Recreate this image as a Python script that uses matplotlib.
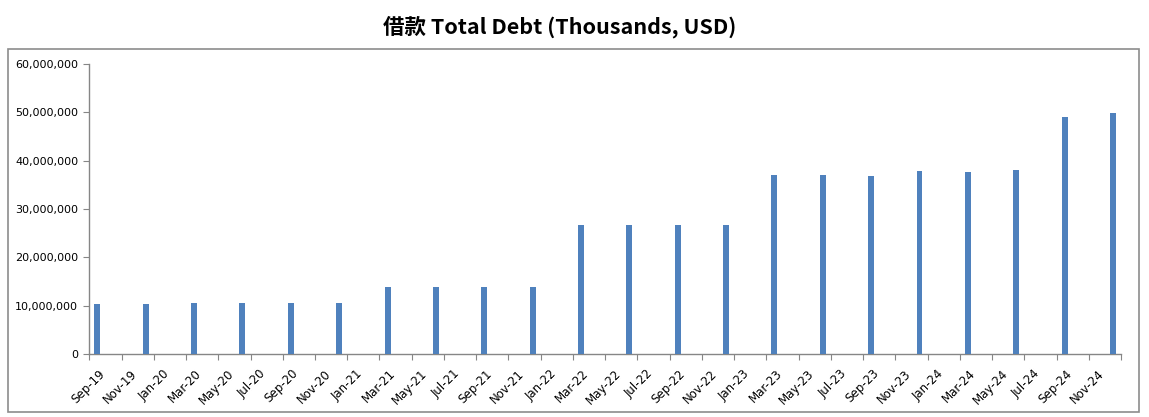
import matplotlib
matplotlib.use("Agg")
import matplotlib.pyplot as plt
from matplotlib.patches import Rectangle
from matplotlib.ticker import FuncFormatter
from matplotlib.transforms import ScaledTranslation

# Data (quarter-end months, values in thousands USD)
periods = ["Sep-19", "Dec-19", "Mar-20", "Jun-20", "Sep-20", "Dec-20",
           "Mar-21", "Jun-21", "Sep-21", "Dec-21", "Mar-22", "Jun-22",
           "Sep-22", "Dec-22", "Mar-23", "Jun-23", "Sep-23", "Dec-23",
           "Mar-24", "Jun-24", "Sep-24", "Dec-24"]
total_debt = [10390000, 10390000, 10590000, 10590000, 10590000, 10590000,
              13900000, 13900000, 13900000, 13900000, 26700000, 26700000,
              26700000, 26700000, 37000000, 37000000, 36800000, 37850000,
              37600000, 38000000, 49000000, 49800000]
tick_labels = ["Sep-19", "Nov-19", "Jan-20", "Mar-20", "May-20", "Jul-20",
               "Sep-20", "Nov-20", "Jan-21", "Mar-21", "May-21", "Jul-21",
               "Sep-21", "Nov-21", "Jan-22", "Mar-22", "May-22", "Jul-22",
               "Sep-22", "Nov-22", "Jan-23", "Mar-23", "May-23", "Jul-23",
               "Sep-23", "Nov-23", "Jan-24", "Mar-24", "May-24", "Jul-24",
               "Sep-24", "Nov-24"]

months = {"Jan": 1, "Feb": 2, "Mar": 3, "Apr": 4, "May": 5, "Jun": 6,
          "Jul": 7, "Aug": 8, "Sep": 9, "Oct": 10, "Nov": 11, "Dec": 12}

def month_index(lbl):
    m, y = lbl.split("-")
    return (2000 + int(y) - 2019) * 12 + months[m] - 9

x_bars = [month_index(p) + 0.5 for p in periods]
x_ticks = [month_index(t) for t in tick_labels]
n_months = month_index("Dec-24") + 1

W, H = 1149, 417
fig = plt.figure(figsize=(W / 100, H / 100), dpi=100)
fig.patch.set_facecolor("white")

# outer chart border
fig.patches.append(Rectangle((8 / W, 1 - 412 / H), (1139 - 8) / W, (412 - 49) / H,
                             transform=fig.transFigure, fill=False,
                             edgecolor="#8c8c8c", linewidth=1.2))

ax = fig.add_axes([89.3 / W, 1 - 354.3 / H, (1121 - 89.3) / W, (354.3 - 63.7) / H])
ax.bar(x_bars, total_debt, width=0.37, color="#4F81BD", zorder=3)

ax.set_xlim(0, n_months)
ax.set_ylim(0, 60000000)
ax.set_yticks(range(0, 60000001, 10000000))
ax.yaxis.set_major_formatter(FuncFormatter(lambda v, p: f"{int(v):,}"))

for s in ["top", "right"]:
    ax.spines[s].set_visible(False)
for s in ["left", "bottom"]:
    ax.spines[s].set_color("#868686")
    ax.spines[s].set_linewidth(1.0)

ax.tick_params(axis="both", direction="out", length=4, color="#868686",
               labelcolor="black")
ax.tick_params(axis="y", labelsize=8, pad=4)
ax.tick_params(axis="x", pad=3)

ax.set_xticks(x_ticks + [n_months])
ax.set_xticklabels(tick_labels + [""], rotation=45, ha="right",
                   rotation_mode="anchor", fontsize=8.5)
shift = ScaledTranslation(9 / 100, -3 / 100, fig.dpi_scale_trans)
for lbl in ax.get_xticklabels():
    lbl.set_transform(lbl.get_transform() + shift)

fig.text(560 / W, 1 - 27 / H, "借款 Total Debt (Thousands, USD)",
         ha="center", va="center", fontsize=15.5, fontweight="bold",
         family=["Noto Sans CJK SC", "DejaVu Sans"])

fig.savefig("out.png", dpi=100)
